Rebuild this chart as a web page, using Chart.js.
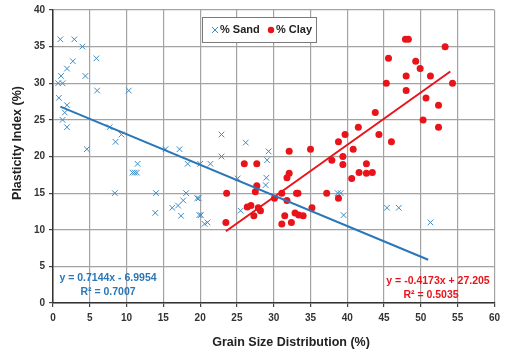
<!DOCTYPE html>
<html>
<head>
<meta charset="utf-8">
<script src="https://cdn.jsdelivr.net/npm/chart.js@4.4.1/dist/chart.umd.min.js"></script>
<style>
  html, body { margin: 0; padding: 0; background: #fff; }
  #wrap { width: 505px; height: 355px; position: relative; }
</style>
</head>
<body>
<div id="wrap"><canvas id="chart" width="505" height="355"></canvas></div>
<script>
// % Sand points (x = grain size %, y = plasticity index %)
const sandX = [1.0, 2.9, 4.0, 2.7, 5.9, 1.9, 1.1, 4.4, 0.7, 1.3, 6.0, 10.3, 0.8, 1.9, 1.6, 1.3, 1.9, 7.7, 9.3, 8.5,
  4.6, 15.3, 17.2, 22.9, 22.9, 11.5, 18.3, 20.0, 21.4, 10.8, 11.1, 11.4, 8.4, 14.0, 18.1, 17.7, 17.0, 16.2, 13.9, 17.4,
  19.6, 19.8, 19.9, 20.1, 20.6, 21.0, 25.1, 26.2, 29.3, 29.1, 29.0, 28.9, 25.5, 38.7, 39.1, 39.5, 45.4, 47.0, 51.3];
const sandY = [36, 36, 35, 33, 33.4, 32, 31, 31, 30, 30, 29, 29, 28, 27, 26, 25, 24, 24, 23, 22,
  21, 21, 21, 23, 20, 19, 19, 19, 19, 17.8, 17.8, 17.8, 15, 15, 15, 14, 13.3, 13, 12.3, 11.9,
  14.3, 14.3, 12, 12, 10.8, 11, 17, 21.9, 20.7, 19.5, 17.1, 16.1, 12.6, 15, 15, 12, 13, 13, 11];

// % Clay points
const clayX = [47.9, 48.3, 53.3, 45.6, 49.3, 49.9, 48.0, 51.3, 45.3, 54.3, 48.0, 50.7, 52.4, 43.8, 50.3, 52.4, 41.5, 39.7,
  44.3, 38.8, 46.0, 40.8, 35.0, 32.1, 39.4, 37.9, 39.4, 42.6, 41.6, 42.6, 43.4, 40.6, 26.0, 27.7, 32.1, 31.8, 27.7, 27.5,
  23.6, 23.5, 31.1, 33.1, 33.3, 30.1, 31.8, 26.4, 26.9, 27.9, 28.2, 27.3, 31.5, 31.1, 32.4, 32.9, 33.4, 34.0, 35.2, 37.2, 38.8];
const clayY = [36, 36, 35, 33.4, 33, 32, 31, 31, 30, 30, 29, 28, 27, 26, 25, 24, 24, 23,
  23, 22, 22, 21, 21, 20.7, 20, 19.5, 18.9, 19, 17.8, 17.7, 17.8, 17, 19, 19, 17.7, 17.1, 16, 15.2,
  15, 11, 15, 15, 15, 14.3, 14, 13.1, 13.3, 13, 12.6, 11.9, 11.9, 10.8, 11, 12.3, 12, 11.9, 13, 15, 14.3];

// trend line end points as drawn
const sandTrendX = [1, 51];
const sandTrendY = [26.8, 5.9];
const clayTrendX = [23.5, 54];
const clayTrendY = [9.8, 31.6];

const xTicks = [0, 5, 10, 15, 20, 25, 30, 35, 40, 45, 50, 55, 60];
const yTicks = [0, 5, 10, 15, 20, 25, 30, 35, 40];

const FONT = "'Liberation Sans Narrow', 'Arial Narrow', 'Liberation Sans', Arial, sans-serif";
const BLUE = "#3d8cc4";
const BLUE_LINE = "#2a77b8";
const RED = "#e8141a";

const pts = (xs, ys) => xs.map((x, i) => ({ x: x, y: ys[i] }));

// equations, legend and axis titles drawn on the canvas
const extras = {
  id: "extras",
  afterDraw(chart) {
    const ctx = chart.ctx;
    const xs = chart.scales.x;
    const ys = chart.scales.y;
    ctx.save();
    ctx.font = "bold 10.5px " + FONT;
    ctx.textBaseline = "middle";
    ctx.textAlign = "center";
    ctx.fillStyle = BLUE_LINE;
    ctx.fillText("y = 0.7144x - 6.9954", 108, 278);
    ctx.fillText("R\u00b2 = 0.7007", 108, 292);
    ctx.fillStyle = RED;
    ctx.fillText("y = -0.4173x + 27.205", 438, 281);
    ctx.fillText("R\u00b2 = 0.5035", 431, 295);

    // legend box
    const lx = 202, ly = 17, lw = 114, lh = 25;
    ctx.fillStyle = "#fff";
    ctx.fillRect(lx, ly, lw, lh);
    ctx.strokeStyle = "#7a7a7a";
    ctx.lineWidth = 1;
    ctx.strokeRect(lx + 0.5, ly + 0.5, lw, lh);
    const cy = ly + lh / 2 + 0.5;
    ctx.strokeStyle = BLUE;
    ctx.beginPath();
    ctx.moveTo(212, cy - 3); ctx.lineTo(218, cy + 3);
    ctx.moveTo(218, cy - 3); ctx.lineTo(212, cy + 3);
    ctx.stroke();
    ctx.fillStyle = RED;
    ctx.beginPath();
    ctx.arc(271, cy, 3.2, 0, Math.PI * 2);
    ctx.fill();
    ctx.fillStyle = "#222";
    ctx.textAlign = "left";
    ctx.font = "bold 11px " + FONT;
    ctx.fillText("% Sand", 220, cy);
    ctx.fillText("% Clay", 276, cy);

    // axis titles
    ctx.font = "bold 12.5px " + FONT;
    ctx.textAlign = "center";
    ctx.fillText("Grain Size Distribution (%)", 291, 343);
    ctx.translate(18, 143);
    ctx.rotate(-Math.PI / 2);
    ctx.fillText("Plasticity Index (%)", 0, 0);
    ctx.restore();
  }
};

const ctx = document.getElementById("chart").getContext("2d");
new Chart(ctx, {
  type: "scatter",
  data: {
    datasets: [
      {
        label: "% Sand",
        data: pts(sandX, sandY),
        pointStyle: "crossRot",
        pointRadius: 4,
        borderWidth: 1,
        borderColor: BLUE,
        backgroundColor: BLUE,
        order: 3
      },
      {
        label: "% Clay",
        data: pts(clayX, clayY),
        pointStyle: "circle",
        pointRadius: 3.5,
        borderWidth: 0,
        backgroundColor: RED,
        borderColor: RED,
        order: 2
      },
      {
        type: "line",
        label: "sand trend",
        data: pts(sandTrendX, sandTrendY),
        borderColor: BLUE_LINE,
        borderWidth: 2,
        pointRadius: 0,
        fill: false,
        order: 1
      },
      {
        type: "line",
        label: "clay trend",
        data: pts(clayTrendX, clayTrendY),
        borderColor: RED,
        borderWidth: 2,
        pointRadius: 0,
        fill: false,
        order: 1
      }
    ]
  },
  options: {
    responsive: false,
    animation: false,
    layout: { padding: { top: 8, right: 5, left: 0, bottom: 0 } },
    plugins: {
      legend: { display: false },
      tooltip: { enabled: false }
    },
    scales: {
      x: {
        type: "linear",
        min: 0,
        max: 60,
        afterBuildTicks: (s) => { s.ticks = xTicks.map((v) => ({ value: v })); },
        afterFit: (s) => { s.height = 52; },
        ticks: { color: "#333", font: { family: FONT, size: 10, weight: "bold" }, padding: 5, maxRotation: 0 },
        grid: { color: "#a3a3a3", lineWidth: 1.2, tickLength: 4, tickColor: "#444" },
        border: { color: "#333", width: 1.5 }
      },
      y: {
        type: "linear",
        min: 0,
        max: 40,
        afterBuildTicks: (s) => { s.ticks = yTicks.map((v) => ({ value: v })); },
        afterFit: (s) => { s.width = 53; },
        ticks: { color: "#333", font: { family: FONT, size: 10, weight: "bold" }, padding: 4 },
        grid: { color: "#a3a3a3", lineWidth: 1.2, tickLength: 4, tickColor: "#444" },
        border: { color: "#333", width: 1.5 }
      }
    }
  },
  plugins: [extras]
});
</script>
</body>
</html>
